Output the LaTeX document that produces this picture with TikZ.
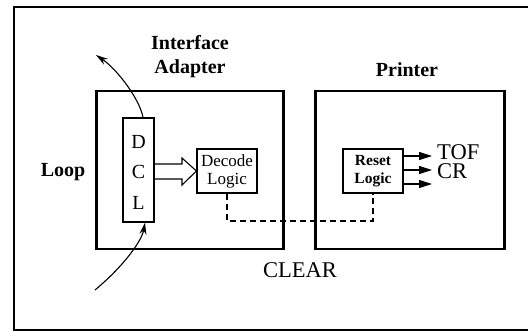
\documentclass[tikz,border=0pt]{standalone}
\usepackage{fontspec}
\setmainfont{Liberation Serif}
\usetikzlibrary{arrows.meta}
\begin{document}
\begin{tikzpicture}[x=1pt,y=-1pt,
  smallbox/.style={draw,line width=1.1pt,inner sep=0pt,align=center},
  lbl/.style={font=\fontsize{20}{20}\selectfont\bfseries,align=center,inner sep=0pt},
  sig/.style={font=\fontsize{22.5}{20}\selectfont,inner sep=0pt},
  tip/.style={-{Triangle[length=13pt,width=8pt]},line width=1.1pt},
  loopar/.style={-{Stealth[length=12pt,width=7pt]},line width=1.1pt}]
\useasboundingbox (0,0) rectangle (528,331);
% outer frame (open on the right)
\draw[line width=2pt] (528,7) -- (14,7) -- (14,330) -- (528,330);
% main boxes
\node[draw,line width=2.2pt,minimum width=187pt,minimum height=158pt,inner sep=0pt] (ia) at (190,170) {};
\node[draw,line width=2.2pt,minimum width=189pt,minimum height=158pt,inner sep=0pt] (pr) at (410,170) {};
% labels
\node[lbl] (ialbl) at (190,57) {Interface\\[4pt]Adapter};
\node[lbl] (prlbl) at (407,70) {Printer};
\node[lbl] (loop) at (63,172) {Loop};
\node[sig] (clear) at (300,270) {CLEAR};
% DCL
\node[draw,line width=1.1pt,minimum width=31pt,minimum height=104pt,inner sep=0pt] (dcl) at (138.5,170) {};
\node[font=\fontsize{20}{20}\selectfont,inner sep=0pt] (d) at (138.5,142) {D};
\node[font=\fontsize{20}{20}\selectfont,inner sep=0pt] (c) at (138.5,172) {C};
\node[font=\fontsize{20}{20}\selectfont,inner sep=0pt] (l) at (138.5,203) {L};
% decode and reset
\node[smallbox,minimum width=60pt,minimum height=44pt,font=\fontsize{17}{18}\selectfont] (dec) at (227,171) {Decode\\Logic};
\node[smallbox,minimum width=60pt,minimum height=44pt,font=\fontsize{15.5}{18}\selectfont\bfseries] (rst) at (373,171) {Reset\\Logic};
% hollow wide arrow
\draw[line width=1.1pt,line join=miter] (dcl.east |- 0,164) -- (182,164) -- (182,158) -- (dec.west) -- (182,185) -- (182,179) -- (dcl.east |- 0,179);
% dashed clear line
\coordinate (c1) at (dec.south |- 0,221);
\coordinate (c2) at (rst.south |- 0,221);
\draw[line width=1.1pt,dash pattern=on 6pt off 4pt] (dec.south) -- (c1) -- (c2) -- (rst.south);
% output arrows
\coordinate (o1) at (432,156);
\coordinate (o2) at (432,170);
\coordinate (o3) at (432,184);
\draw[tip] (rst.east |- o1) -- (o1);
\draw[tip] (rst.east |- o2) -- (o2);
\draw[tip] (rst.east |- o3) -- (o3);
\node[sig,anchor=west] (tof) at (437,152) {TOF};
\node[sig,anchor=west] (cr) at (437,171) {CR};
% loop arrows
\coordinate (lt) at (96,55);
\coordinate (lb) at (95,290);
\draw[loopar] (dcl.north -| 143,0) .. controls (140,100) and (118,70) .. (lt);
\draw[loopar] (lb) .. controls (125,265) and (142,240) .. (dcl.south -| 145,0);
\end{tikzpicture}
\end{document}
